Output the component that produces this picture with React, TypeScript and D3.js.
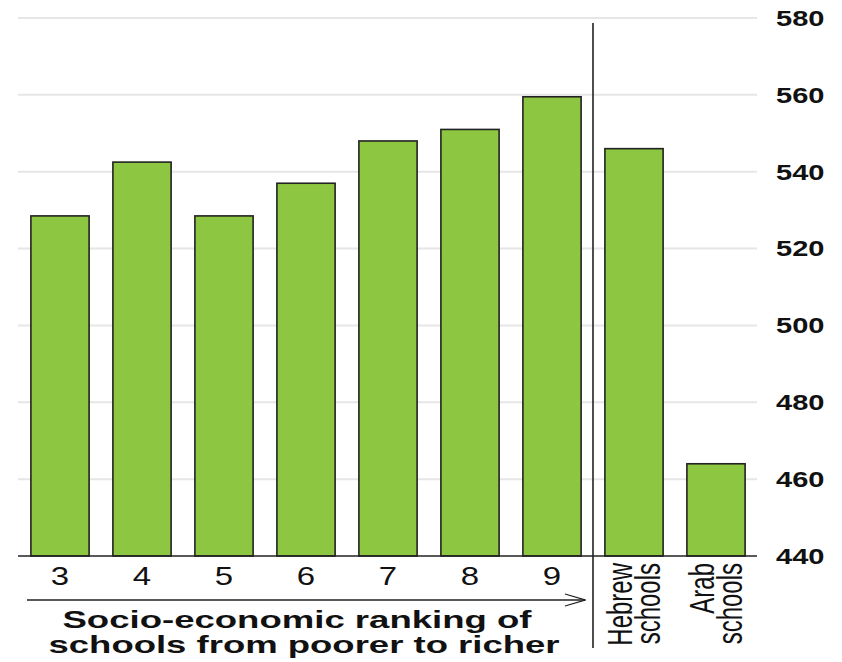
import React from "react";
import * as d3 from "d3";

const categories = ["3", "4", "5", "6", "7", "8", "9", "Hebrew schools", "Arab schools"];
const values = [528.5, 542.5, 528.5, 537, 548, 551, 559.5, 546, 464];
const yTicks = [440, 460, 480, 500, 520, 540, 560, 580];
const titleLines = ["Socio-economic ranking of", "schools from poorer to richer"];

const SX = 1.32;
const SR = 1.45;

export default function App() {
  const W = 842, H = 662;
  const x = d3.scaleBand<string>().domain(categories).range([19, 757]).paddingInner(0.29).paddingOuter(0.145);
  const y = d3.scaleLinear().domain([440, 580]).range([556, 18]);
  const sepX = (x("9")! + x.bandwidth() + x("Hebrew schools")!) / 2;
  const font = "Liberation Sans, Arial, sans-serif";
  const titleX = [297, 304];
  const titleLen = [469, 511];
  return (
    <svg width={W} height={H} style={{ position: "absolute", left: 0, top: 0 }} fontFamily={font}>
      <defs>
        <marker id="arr" viewBox="0 0 22 14" refX="21" refY="7" markerWidth="22" markerHeight="14" markerUnits="userSpaceOnUse" orient="auto">
          <path d="M1,1 L21,7 L1,13" fill="none" stroke="#222" strokeWidth={1.3} />
        </marker>
      </defs>
      {yTicks.map((t) => (
        <g key={t}>
          {t !== 440 && <line x1={18} x2={757} y1={y(t)} y2={y(t)} stroke="#e6e6e6" strokeWidth={2} />}
          <text transform={`translate(776,${y(t)}) scale(${SX},1)`} dy="0.36em" fontSize={22} fontWeight="bold" fill="#111">{t}</text>
        </g>
      ))}
      {categories.map((c, i) => (
        <rect key={c} x={x(c)} y={y(values[i])} width={x.bandwidth()} height={y(440) - y(values[i])}
          fill="#8dc641" stroke="#222" strokeWidth={1.6} />
      ))}
      <line x1={18} x2={757} y1={y(440)} y2={y(440)} stroke="#222" strokeWidth={1.6} />
      <line x1={sepX} x2={sepX} y1={23} y2={648} stroke="#222" strokeWidth={1.6} />
      {categories.slice(0, 7).map((c) => (
        <text key={c} transform={`translate(${x(c)! + x.bandwidth() / 2},585) scale(${SX},1)`} textAnchor="middle" fontSize={25} fill="#111">{c}</text>
      ))}
      {categories.slice(7).map((c) => {
        const parts = c.split(" ");
        const cx = x(c)! + x.bandwidth() / 2;
        return (
          <g key={c}>
            {parts.map((p, j) => (
              <text key={p} transform={`translate(${cx - 2 + j * 28},563) rotate(-90) scale(1,${SR})`} textAnchor="end" fontSize={24} fill="#111">{p}</text>
            ))}
          </g>
        );
      })}
      <line x1={27} x2={585} y1={600} y2={600} stroke="#222" strokeWidth={1.3} markerEnd="url(#arr)" />
      {titleLines.map((l, i) => (
        <text key={l} x={titleX[i] - titleLen[i] / 2} y={628 + i * 25} textLength={titleLen[i]} lengthAdjust="spacingAndGlyphs"
          fontSize={24} fontWeight="bold" fill="#111">{l}</text>
      ))}
    </svg>
  );
}
